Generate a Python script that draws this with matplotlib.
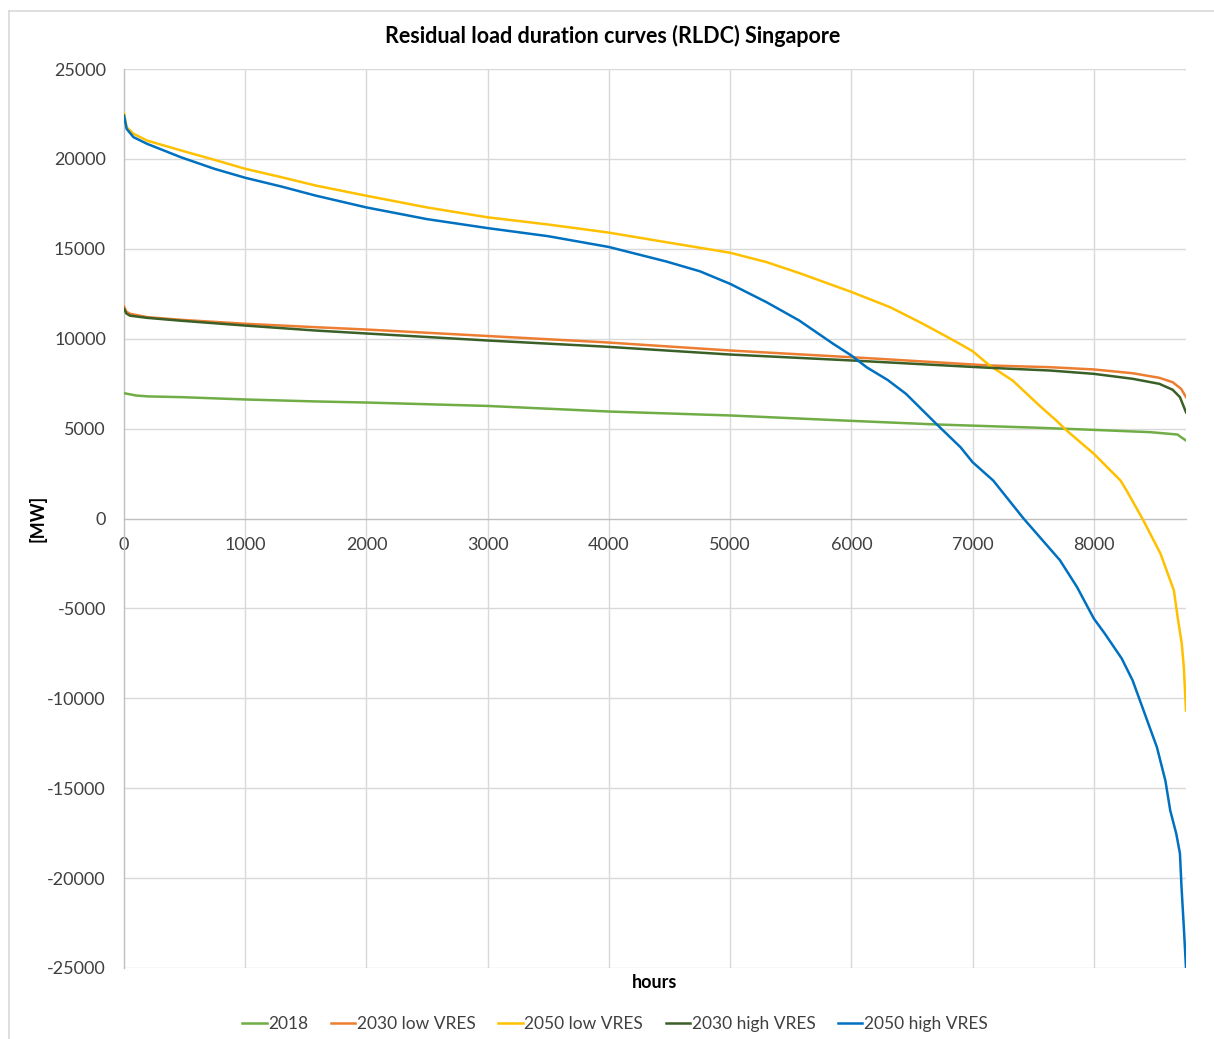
import matplotlib
matplotlib.use("Agg")
import matplotlib.pyplot as plt
from matplotlib.lines import Line2D

plt.rcParams['font.family'] = ['Lato', 'DejaVu Sans']

# Residual load per sorted hour (hours, MW)
hours_2018 = [0, 100, 200, 470, 1000, 1580, 2000, 3000, 4000, 5000, 5935, 6700, 7550, 8000, 8470, 8690, 8720, 8760]
mw_2018 = [6970, 6840, 6790, 6750, 6620, 6510, 6450, 6260, 5950, 5730, 5450, 5230, 5045, 4930, 4800, 4670, 4520, 4340]

hours_2030_low = [0, 20, 50, 190, 470, 1000, 1580, 2000, 3000, 3950, 5000, 6000, 6230, 7140, 7640, 8000, 8320, 8540, 8650, 8720, 8760]
mw_2030_low = [11790, 11500, 11385, 11200, 11050, 10830, 10640, 10510, 10150, 9806, 9344, 8970, 8880, 8510, 8415, 8290, 8080, 7825, 7580, 7210, 6750]

hours_2050_low = [0, 22, 78, 190, 470, 745, 1000, 1300, 1580, 2000, 2500, 3000, 3500, 4000, 4470, 5000, 5300, 5570, 6000, 6320, 6590,
                  6870, 7000, 7140, 7330, 7550, 7690, 7775, 8000, 8220, 8270, 8400, 8550, 8660, 8695, 8725, 8742, 8760]
mw_2050_low = [22540, 21760, 21400, 21020, 20470, 19950, 19450, 18980, 18520, 17950, 17300, 16750, 16350, 15900, 15370, 14780, 14260,
               13650, 12600, 11750, 10830, 9805, 9305, 8510, 7675, 6285, 5450, 4895, 3600, 2110, 1555, 0, -1960, -4000, -5670, -6950,
               -8270, -10680]

hours_2030_high = [0, 20, 50, 190, 470, 1000, 1580, 2000, 3000, 3950, 5000, 6000, 7140, 7640, 8000, 8320, 8540, 8650, 8710, 8760]
mw_2030_high = [11660, 11400, 11280, 11160, 11000, 10730, 10455, 10290, 9900, 9566, 9120, 8790, 8380, 8230, 8045, 7770, 7490, 7160, 6750, 5910]

hours_2050_high = [0, 22, 78, 190, 470, 745, 1000, 1300, 1580, 2000, 2500, 3000, 3500, 4000, 4470, 4750, 5000, 5300, 5570, 5850, 6000,
                   6125, 6300, 6450, 6700, 6900, 7000, 7170, 7420, 7720, 7860, 8000, 8090, 8230, 8320, 8430, 8520, 8590, 8630, 8680,
                   8710, 8723, 8742, 8760]
mw_2050_high = [22410, 21670, 21210, 20840, 20090, 19450, 18950, 18460, 17960, 17300, 16650, 16150, 15700, 15100, 14300, 13750, 13050,
                12030, 11010, 9715, 9065, 8415, 7700, 6935, 5265, 3965, 3130, 2110, 0, -2320, -3800, -5570, -6400, -7790, -9010,
                -11050, -12720, -14580, -16240, -17540, -18630, -20500, -22730, -25000]

series = [
    ("2018", hours_2018, mw_2018, "#70AD47"),
    ("2030 low VRES", hours_2030_low, mw_2030_low, "#ED7D31"),
    ("2050 low VRES", hours_2050_low, mw_2050_low, "#FFC000"),
    ("2030 high VRES", hours_2030_high, mw_2030_high, "#3A5F27"),
    ("2050 high VRES", hours_2050_high, mw_2050_high, "#0070C0"),
]

x_ticks = [0, 1000, 2000, 3000, 4000, 5000, 6000, 7000, 8000]
y_ticks = [-25000, -20000, -15000, -10000, -5000, 0, 5000, 10000, 15000, 20000, 25000]

W, H = 1214, 1039
fig = plt.figure(figsize=(W / 100, H / 100), dpi=100)
ax = fig.add_axes([124 / W, 1 - 968 / H, (1186 - 124) / W, (968 - 69) / H])

grid_c = "#D9D9D9"
axis_c = "#BFBFBF"

for name, xs, ys, c in series:
    ax.plot(xs, ys, color=c, lw=1.8, label=name, solid_joinstyle="round", zorder=3)

ax.set_xlim(0, 8760)
ax.set_ylim(-25000, 25000)
ax.set_xticks(x_ticks)
ax.set_yticks(y_ticks)
ax.set_xticklabels([str(v) for v in x_ticks])
ax.set_yticklabels([str(v) for v in y_ticks])

for v in y_ticks:
    if v != 0:
        ax.axhline(v, color=grid_c, lw=1.0, zorder=1)
for v in x_ticks[1:]:
    ax.axvline(v, color=grid_c, lw=1.0, zorder=1)

for s in ["top", "right"]:
    ax.spines[s].set_visible(False)
ax.spines["left"].set_color(axis_c)
ax.spines["left"].set_linewidth(1.0)
ax.spines["bottom"].set_position(("data", 0))
ax.spines["bottom"].set_color(axis_c)
ax.spines["bottom"].set_linewidth(1.0)

ax.tick_params(axis="both", length=0, labelsize=13, colors="#404040")
ax.tick_params(axis="y", pad=13)
ax.tick_params(axis="x", pad=13)

fig.text(613 / W, 1 - 36 / H, "Residual load duration curves (RLDC) Singapore", ha="center", va="center",
         fontsize=15.5, fontweight="bold", color="#000000")
fig.text(655 / W, 1 - 983 / H, "hours", ha="center", va="center", fontsize=13, fontweight="bold", color="#000000")
fig.text(38 / W, 1 - 518 / H, "[MW]", ha="center", va="center", rotation=90, fontsize=13, fontweight="bold", color="#000000")

handles = [Line2D([0], [0], color=c, lw=1.8) for _, _, _, c in series]
fig.legend(handles, [s[0] for s in series], loc="center", bbox_to_anchor=(615 / W, 1 - 1024 / H), ncol=5,
           frameon=False, fontsize=12.5, handlelength=1.4, handletextpad=0.1, columnspacing=1.3, labelcolor="#404040")

# outer chart frame
fig.add_artist(Line2D([9 / W, 1], [1 - 11 / H, 1 - 11 / H], transform=fig.transFigure, color=grid_c, lw=1.2))
fig.add_artist(Line2D([9 / W, 9 / W], [0, 1 - 11 / H], transform=fig.transFigure, color=grid_c, lw=1.2))

fig.savefig("out.png", dpi=100, facecolor="white")
